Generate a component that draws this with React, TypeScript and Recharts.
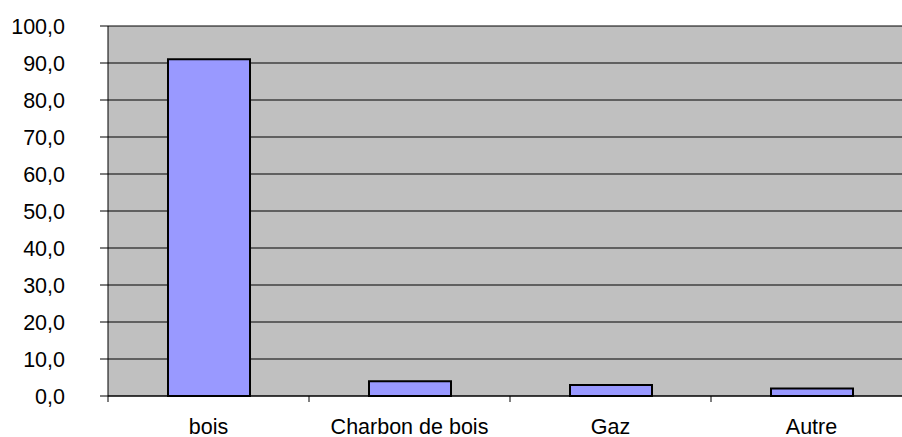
import React from "react";
import { BarChart, Bar, XAxis, YAxis, CartesianGrid } from "recharts";

const categories = ["bois", "Charbon de bois", "Gaz", "Autre"];
const values = [91.0, 4.0, 3.0, 2.0];
const yTicks = [0, 10, 20, 30, 40, 50, 60, 70, 80, 90, 100];

const data = categories.map((c, i) => ({ name: c, value: values[i] }));

const FONT = "'Liberation Sans', Arial, sans-serif";
const FS = 21.5;

const XTick = (props: any) => {
  const { x, y, payload } = props;
  const off = payload && payload.offset ? payload.offset : 0;
  const axisY = y - 23;
  return (
    <g>
      <line x1={x - off} y1={axisY} x2={x - off} y2={axisY + 6} stroke="#000" strokeWidth={1} />
      <text x={x} y={y} dy="0.71em" textAnchor="middle" fontFamily={FONT} fontSize={FS} fill="#000">
        {payload.value}
      </text>
    </g>
  );
};

export default function App() {
  return (
    <div
      style={{
        position: "fixed",
        left: 0,
        top: 0,
        width: 902,
        height: 437,
        overflow: "hidden",
        background: "#fff",
      }}
    >
      <div style={{ position: "absolute", left: 8, top: 8 }}>
        <BarChart
          width={904}
          height={429}
          data={data}
          margin={{ top: 18, right: 0, left: 0, bottom: 0 }}
        >
          <CartesianGrid vertical={false} stroke="#000" strokeWidth={1} fill="#C0C0C0" fillOpacity={1} />
          <XAxis
            dataKey="name"
            height={41}
            tickLine={false}
            tickSize={6}
            tickMargin={17}
            axisLine={{ stroke: "#000", strokeWidth: 1 }}
            tick={<XTick />}
            interval={0}
          />
          <YAxis
            width={100}
            domain={[0, 100]}
            ticks={yTicks}
            tickSize={8}
            tickMargin={35}
            interval={0}
            axisLine={{ stroke: "#000", strokeWidth: 1 }}
            tickLine={{ stroke: "#000", strokeWidth: 1 }}
            tick={{ fill: "#000", fontFamily: FONT, fontSize: FS }}
            tickFormatter={(v: number) => v.toFixed(1).replace(".", ",")}
          />
          <Bar
            dataKey="value"
            fill="#9999FF"
            stroke="#000"
            strokeWidth={2}
            barSize={82}
            isAnimationActive={false}
          />
        </BarChart>
      </div>
    </div>
  );
}
